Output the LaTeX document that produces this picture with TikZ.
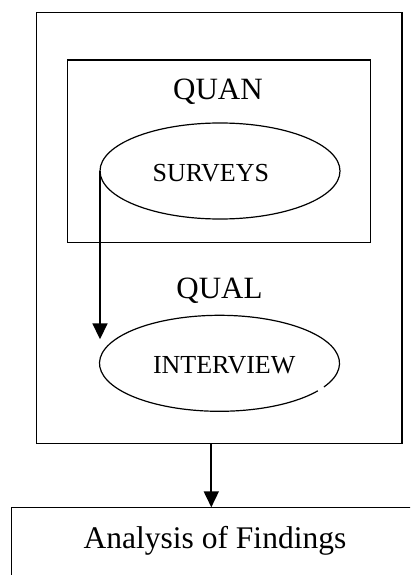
\documentclass[tikz,border=0pt]{standalone}
\usepackage{fontspec}
\setmainfont{Liberation Serif}
\usetikzlibrary{shapes.geometric,arrows.meta}

\tikzset{
  frame/.style={draw, rectangle, line width=1.4pt, inner sep=0pt, outer sep=0pt, anchor=north west},
  oval/.style={ellipse, line width=1.2pt, inner sep=0pt, outer sep=0pt, minimum width=240pt, minimum height=96pt},
  heading/.style={font=\fontsize{31}{36}\selectfont, inner sep=0pt, anchor=base},
  ovaltext/.style={font=\fontsize{26}{30}\selectfont, inner sep=0pt, anchor=base},
  arr/.style={line width=1.8pt, -{Triangle[width=15pt,length=16pt]}},
}

\begin{document}
\begin{tikzpicture}[x=1pt, y=-1pt]
  \useasboundingbox (0,0) rectangle (410,575);
  \clip (0,0) rectangle (410,575);

  % design frame and the quantitative phase
  \node[frame, minimum width=365.3pt, minimum height=430.8pt] (outer) at (36.7,12.5) {};
  \node[frame, minimum width=303.4pt, minimum height=182.3pt] (inner) at (67.3,60) {};

  \node[heading] (quan) at (218,100) {QUAN};
  \node[oval, draw] (surveys) at (220,171) {};
  \node[ovaltext] (surveystext) at (210.8,181) {SURVEYS};

  % qualitative phase
  \node[heading] (qual) at (219.5,298.3) {QUAL};
  \node[oval] (interview) at (219.5,363.3) {};
  \draw[line width=1.2pt] (interview.center) ++(-29.5:120pt and 48pt)
    arc[start angle=-29.5, end angle=325, x radius=120pt, y radius=48pt];
  \node[ovaltext] (interviewtext) at (224.2,373.3) {INTERVIEW};

  % findings box, running off the page
  \node[frame, minimum width=420pt, minimum height=100pt] (analysis) at (11.7,507.3) {};
  \node[heading, font=\fontsize{31.5}{36}\selectfont] (analysistext) at (215,548) {Analysis of Findings};

  % connectors
  \coordinate (tip) at (99.3,339.3);
  \draw[arr] (surveys.west) -- (surveys.west |- tip);
  \coordinate (drop) at (211.3,0);
  \draw[arr] (outer.south -| drop) -- (analysis.north -| drop);
\end{tikzpicture}
\end{document}
